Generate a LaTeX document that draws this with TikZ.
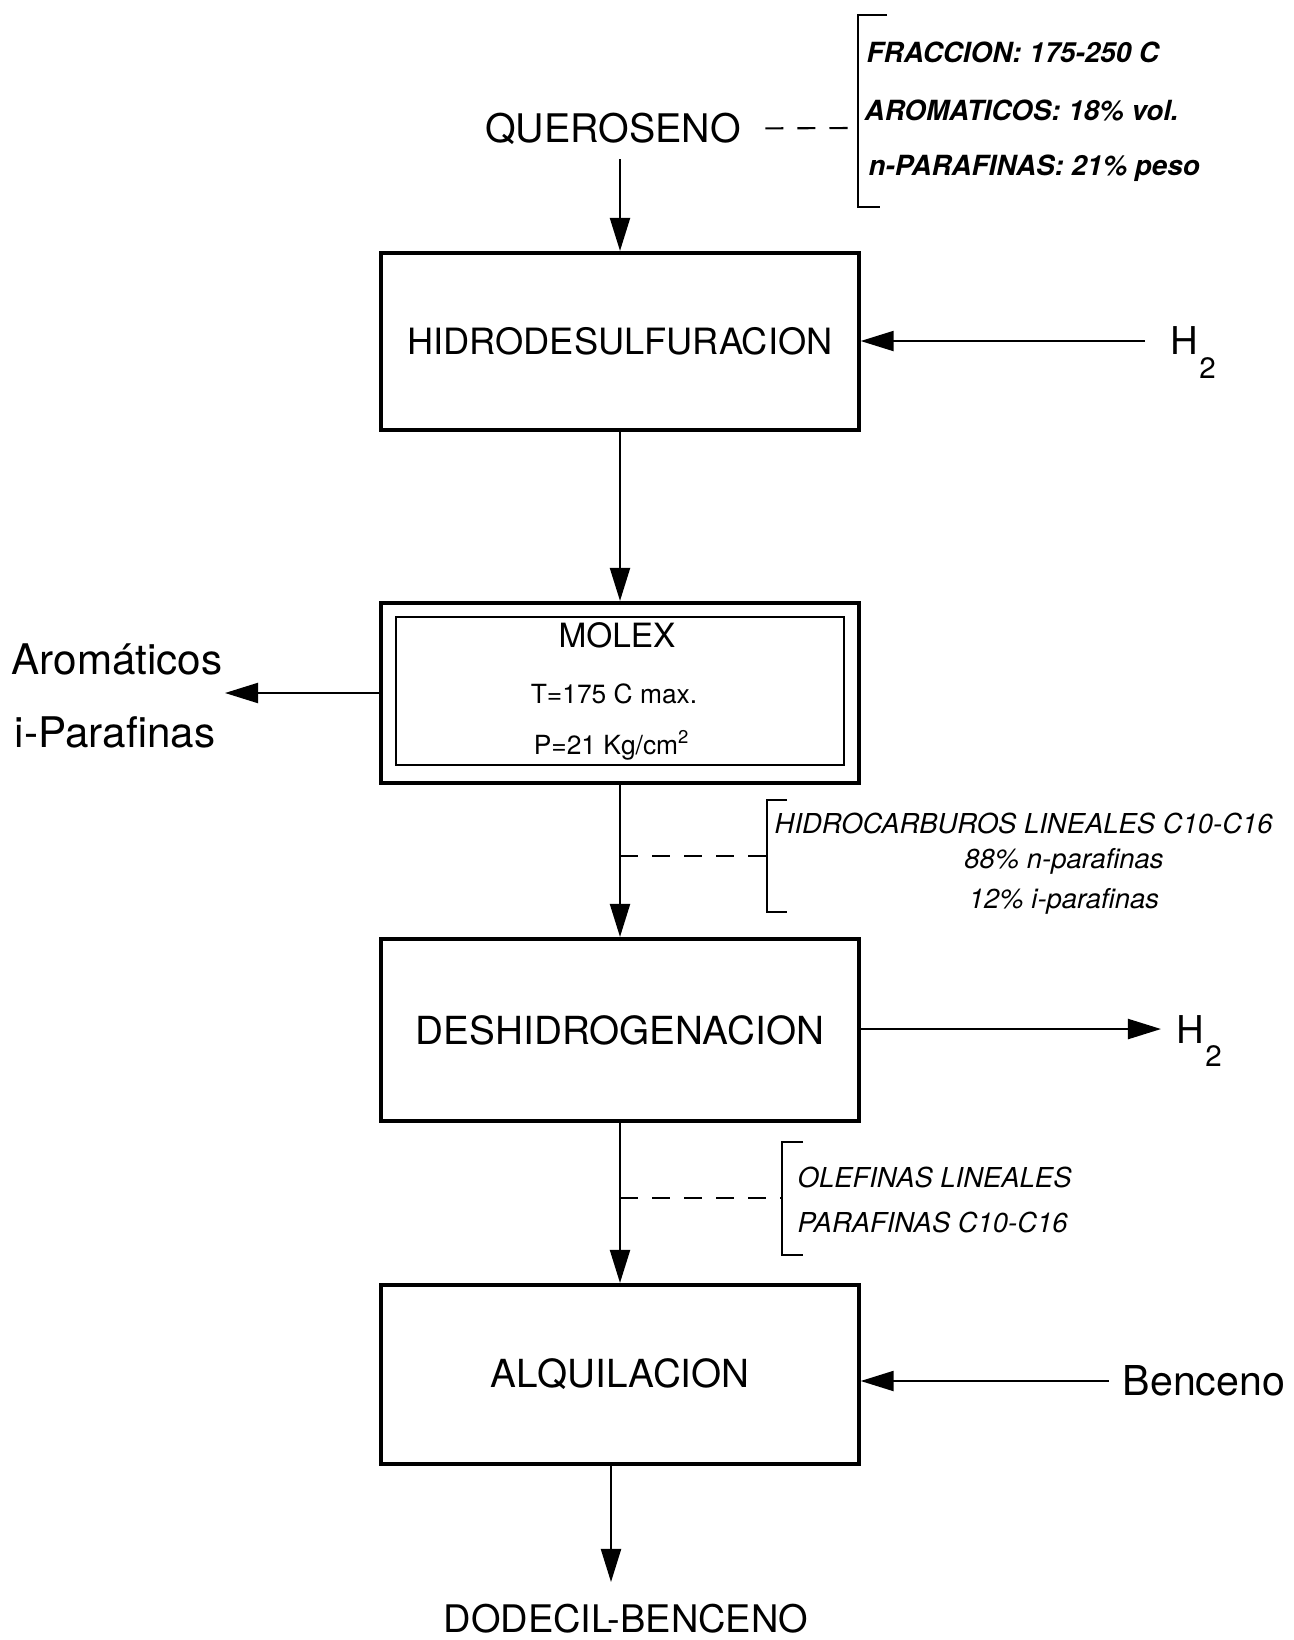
\documentclass[tikz,border=0pt]{standalone}
\usepackage{fontspec}
\setmainfont{TeX Gyre Heros}
\usepackage{tikz}
\usetikzlibrary{arrows.meta}

\newcommand{\fsize}[1]{\fontsize{#1pt}{#1pt}\selectfont}
\newcommand{\Hdos}{H\kern0.3pt\raisebox{-6.6pt}[0pt][0pt]{\fsize{8.4}2}}

\begin{document}
\begin{tikzpicture}[x=0.01cm,y=-0.01cm,
		box/.style={draw,line width=1.15pt,minimum width=4.77cm,inner sep=0pt},
		lbl/.style={inner sep=0pt},
		note/.style={anchor=base west,inner sep=0pt,font=\fsize{7.8}\itshape},
		bnote/.style={note,font=\fsize{7.9}\bfseries\itshape}]
		\useasboundingbox (0,0) rectangle (1293,1640);
		% main line
		\node[lbl] (Q) at (613,129) {\fsize{11.2}QUEROSENO};
		\node[box,minimum height=1.77cm,font=\fsize{10.3}] (HDS) at (620,341.5) {HIDRODESULFURACION};
		\node[box,minimum height=1.80cm] (MOL) at (620,693) {};
		\node[draw,line width=0.6pt,minimum width=4.47cm,minimum height=1.48cm] (MOLin) at (620,691) {};
		\node[box,minimum height=1.82cm,font=\fsize{11}] (DESH) at (620,1030) {DESHIDROGENACION};
		\node[box,minimum height=1.79cm,font=\fsize{11}] (ALQ) at (620,1374.5) {ALQUILACION};
		\node[lbl] (DOD) at (626,1619) {\fsize{10.8}DODECIL-BENCENO};
		\coordinate (out) at (611,1582);
		% MOLEX data
		\node[lbl] (mx) at (617,635) {\fsize{9.5}MOLEX};
		\node[lbl,anchor=base] (mT) at (614,703) {\fsize{7.5}T=175 C max.};
		\node[lbl,anchor=base] (mP) at (612,754) {\fsize{7.5}P=21 Kg/cm\textsuperscript{2}};
		% side streams
		\node[lbl,anchor=base west] (H2in) at (1170,355) {\fsize{10.9}\Hdos};
		\node[lbl,anchor=base west] (H2out) at (1176,1043) {\fsize{10.9}\Hdos};
		\node[lbl,anchor=west] (BEN) at (1122,1381) {\fsize{11.7}Benceno};
		\node[lbl] (Ar) at (117,659) {\fsize{12}Arom\'aticos};
		\node[lbl] (iP) at (115,732) {\fsize{12}i-Parafinas};
		\coordinate (ARO) at (225,693);
		% notes
		\node[bnote] (f1) at (866,63) {FRACCION: 175-250 C};
		\node[bnote] (f2) at (864,121) {AROMATICOS: 18\% vol.};
		\node[bnote] (f3) at (868,176) {n-PARAFINAS: 21\% peso};
		\node[note] (h1) at (774,833) {HIDROCARBUROS LINEALES C10-C16};
		\node[note,anchor=base] (h2) at (1064,868) {88\% n-parafinas};
		\node[note,anchor=base] (h3) at (1064,908) {12\% i-parafinas};
		\node[note] (o1) at (797,1187) {OLEFINAS LINEALES};
		\node[note] (o2) at (797,1232) {PARAFINAS C10-C16};
		\coordinate (QB) at (858,128);
		\coordinate (d1) at (620,856);
		\coordinate (b1) at (767,856);
		\coordinate (d2) at (620,1198);
		\coordinate (b2) at (782,1198);
		%
		\path[->,line width=0.6pt,>={Triangle[length=3.3mm,width=2mm]}]
		% horizontal arrows
		(H2in) edge[shorten <=2.5mm] (HDS.east |- H2in)
		(MOL.west |- ARO) edge (ARO)
		(DESH.east |- H2out) edge[shorten >=1.5mm] (H2out)
		(BEN) edge[shorten <=1.3mm] (ALQ.east |- BEN)
		% vertical arrows
		(HDS.north |- Q.south) edge[shorten <=1.4mm] (HDS.north)
		(HDS) edge (MOL)
		(MOL) edge (DESH)
		(DESH) edge (ALQ)
		(ALQ.south -| out) edge (out);
		% brackets
		\path[-,line width=0.6pt,dash pattern=on 1.8mm off 1.4mm]
		(Q) edge[shorten <=2.4mm] (QB)
		(d1) edge (b1)
		(d2) edge (b2);
		\draw[line width=0.6pt] (887,15) -- (858,15) -- (858,207) -- (880,207);
		\draw[line width=0.6pt] (787,800) -- (767,800) -- (767,912) -- (787,912);
		\draw[line width=0.6pt] (803,1142) -- (782,1142) -- (782,1255) -- (803,1255);
	\end{tikzpicture}
\end{document}
